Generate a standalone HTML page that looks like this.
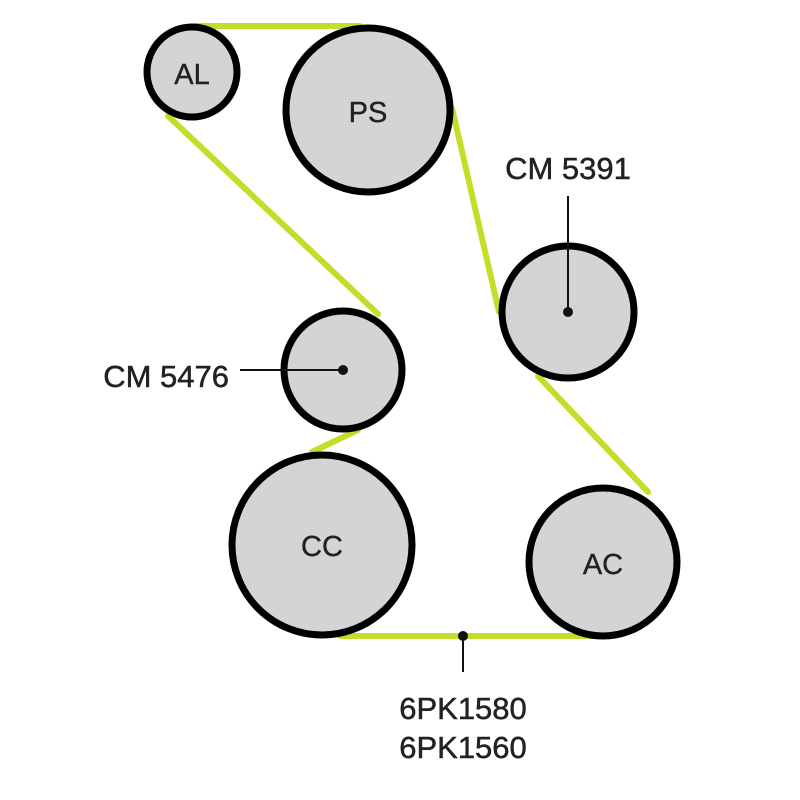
<!DOCTYPE html>
<html><head><style>body{margin:0;background:#fff}svg{display:block}</style></head><body>
<svg width="800" height="800" viewBox="0 0 800 800" xmlns="http://www.w3.org/2000/svg" font-family="Liberation Sans, sans-serif">
<g stroke="#c6dc2a" stroke-width="6" stroke-linecap="round">
<line x1="195" y1="26" x2="360" y2="26"/>
<line x1="168" y1="116" x2="378" y2="314"/>
<line x1="452" y1="108" x2="499" y2="312"/>
<line x1="538" y1="376" x2="648" y2="492"/>
<line x1="340" y1="636" x2="595" y2="636"/>
<line x1="312" y1="452" x2="358" y2="430"/>
</g>
<g fill="#d4d4d6" stroke="#000" stroke-width="7">
<circle cx="192" cy="72" r="45"/>
<circle cx="368" cy="110" r="82"/>
<circle cx="568" cy="312" r="66"/>
<circle cx="343" cy="370" r="59"/>
<circle cx="322" cy="545" r="90"/>
<circle cx="603" cy="562" r="74"/>
</g>
<g fill="#222" font-size="29" text-anchor="middle" stroke="#222" stroke-width="0.4">
<text x="192" y="84">AL</text>
<text x="368" y="122">PS</text>
<text x="322" y="556">CC</text>
<text x="603" y="574">AC</text>
</g>
<g fill="#222" font-size="31" text-anchor="middle" stroke="#222" stroke-width="0.5">
<text x="568" y="179">CM 5391</text>
<text x="229" y="387" text-anchor="end">CM 5476</text>
<text x="463" y="719">6PK1580</text>
<text x="463" y="758">6PK1560</text>
</g>
<g stroke="#111" stroke-width="2">
<line x1="568" y1="196" x2="568" y2="312"/>
<line x1="240" y1="370" x2="343" y2="370"/>
<line x1="463" y1="636" x2="463" y2="672"/>
</g>
<g fill="#111"><circle cx="568" cy="312" r="5"/><circle cx="343" cy="370" r="5"/><circle cx="463" cy="636" r="5"/></g>
</svg>
</body></html>
